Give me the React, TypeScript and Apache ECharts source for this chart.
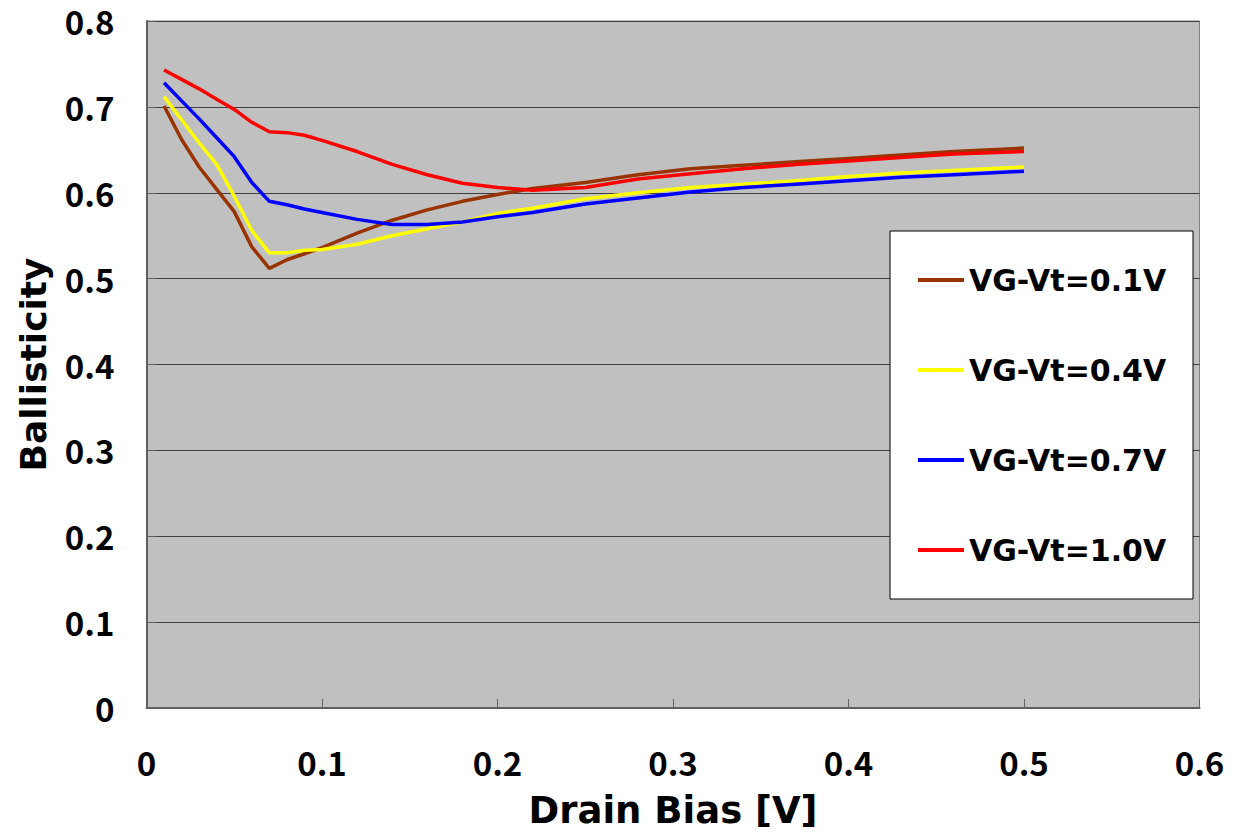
import React, { useEffect, useRef } from "react";
import * as echarts from "echarts";

const xs = [0.01, 0.02, 0.03, 0.04, 0.05, 0.06, 0.07, 0.08, 0.09, 0.10, 0.12, 0.14, 0.16, 0.18, 0.20, 0.22, 0.25, 0.28, 0.31, 0.34, 0.37, 0.40, 0.43, 0.46, 0.50];

const vg01 = [0.701, 0.662, 0.630, 0.604, 0.578, 0.537, 0.512, 0.522, 0.529, 0.536, 0.553, 0.568, 0.580, 0.590, 0.598, 0.605, 0.612, 0.621, 0.628, 0.632, 0.636, 0.640, 0.644, 0.648, 0.652];
const vg04 = [0.712, 0.685, 0.658, 0.633, 0.596, 0.556, 0.530, 0.530, 0.533, 0.534, 0.540, 0.550, 0.558, 0.566, 0.576, 0.582, 0.593, 0.600, 0.606, 0.610, 0.614, 0.619, 0.623, 0.626, 0.630];
const vg07 = [0.728, 0.707, 0.686, 0.664, 0.642, 0.612, 0.590, 0.586, 0.581, 0.577, 0.569, 0.563, 0.563, 0.566, 0.572, 0.577, 0.587, 0.594, 0.601, 0.606, 0.610, 0.614, 0.618, 0.621, 0.625];
const vg10 = [0.743, 0.732, 0.721, 0.709, 0.697, 0.682, 0.671, 0.670, 0.667, 0.661, 0.648, 0.633, 0.621, 0.611, 0.606, 0.603, 0.606, 0.616, 0.622, 0.628, 0.633, 0.637, 0.641, 0.645, 0.648];

const seriesNames = ["VG-Vt=0.1V", "VG-Vt=0.4V", "VG-Vt=0.7V", "VG-Vt=1.0V"];
const seriesValues = [vg01, vg04, vg07, vg10];
const seriesColors = ["#993300", "#ffff00", "#0000ff", "#ff0000"];

const TICK_FONT = "'Noto Sans CJK JP', 'Noto Sans', sans-serif";
const TEXT_FONT = "'DejaVu Sans', sans-serif";

export default function App() {
  const ref = useRef<HTMLDivElement>(null);
  useEffect(() => {
    if (!ref.current) return;
    const chart = echarts.init(ref.current, undefined, { renderer: "svg" });
    const fmt = (v: number) => (v === 0 ? "0" : v.toFixed(1));
    chart.setOption({
      animation: false,
      backgroundColor: "#ffffff",
      grid: {
        left: 146.5,
        right: 35.5,
        top: 21,
        bottom: 125.5,
        show: true,
        backgroundColor: "#c0c0c0",
        borderColor: "#808080",
        borderWidth: 1,
      },
      xAxis: {
        type: "value",
        min: 0,
        max: 0.6,
        interval: 0.1,
        name: "Drain Bias [V]",
        nameLocation: "middle",
        nameGap: 102,
        nameTextStyle: { fontFamily: TEXT_FONT, fontSize: 37, fontWeight: "bold", color: "#000", verticalAlign: "middle", lineHeight: 40 },
        axisLine: { show: true, lineStyle: { color: "#606060", width: 2 } },
        axisTick: { show: true, inside: true, length: 9, lineStyle: { color: "#606060", width: 1 } },
        axisLabel: { formatter: fmt, fontFamily: TICK_FONT, fontSize: 33, fontWeight: "bold", color: "#000", margin: 54, verticalAlign: "middle", lineHeight: 34 },
        splitLine: { show: false },
      },
      yAxis: {
        type: "value",
        min: 0,
        max: 0.8,
        interval: 0.1,
        name: "Ballisticity",
        nameLocation: "middle",
        nameGap: 110,
        nameTextStyle: { fontFamily: TEXT_FONT, fontSize: 36, fontWeight: "bold", color: "#000", verticalAlign: "middle", lineHeight: 40 },
        axisLine: { show: true, lineStyle: { color: "#606060", width: 2 } },
        axisTick: { show: true, inside: true, length: 9, lineStyle: { color: "#606060", width: 1 } },
        axisLabel: { formatter: fmt, fontFamily: TICK_FONT, fontSize: 33, fontWeight: "bold", color: "#000", margin: 32, lineHeight: 30 },
        splitLine: { show: true, lineStyle: { color: "#404040", width: 1 } },
      },
      graphic: [
        {
          type: "rect",
          z: 3,
          shape: { x: 890, y: 231, width: 303, height: 368 },
          style: { fill: "#ffffff", stroke: "#000000", lineWidth: 1 },
        },
      ],
      legend: {
        z: 5,
        orient: "vertical",
        left: 890,
        top: 231,
        padding: [31, 20, 27, 26],
        itemWidth: 46,
        itemHeight: 14,
        itemGap: 54,
        itemStyle: { opacity: 0 },
        lineStyle: { width: 4 },
        textStyle: { fontFamily: TEXT_FONT, fontSize: 30, fontWeight: "bold", color: "#000", lineHeight: 36 },
        data: seriesNames,
      },
      series: seriesNames.map((name, i) => ({
        name,
        type: "line",
        symbol: "none",
        showSymbol: false,
        color: seriesColors[i],
        lineStyle: { color: seriesColors[i], width: 3.5 },
        data: xs.map((x, j) => [x, seriesValues[i][j]]),
      })),
    });
    return () => chart.dispose();
  }, []);
  return (
    <div
      ref={ref}
      style={{ position: "fixed", left: 0, top: 0, width: 1235, height: 835 }}
    />
  );
}
